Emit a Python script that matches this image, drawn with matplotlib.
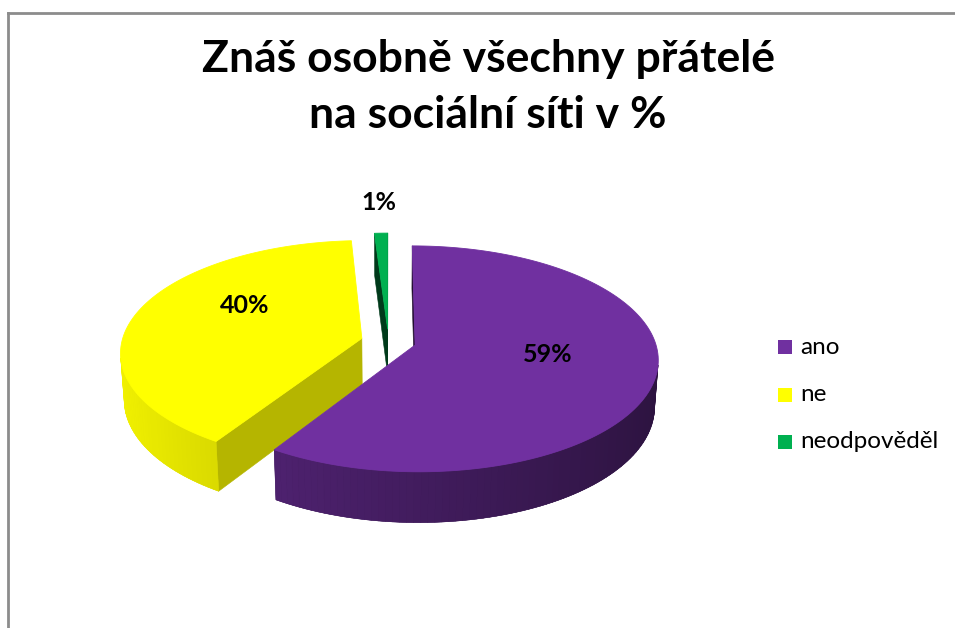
import numpy as np
import matplotlib.pyplot as plt
from matplotlib.lines import Line2D
from matplotlib.patches import Polygon, Rectangle

# chart data
labels = ['ano', 'ne', 'neodpověděl']
values = [59, 40, 1]
colors = ['#7030a0', '#ffff00', '#00b050']
title = 'Znáš osobně všechny přátelé\nna sociální síti v %'

# wall shading per slice: (base, slope), cut face factor
wall_shade = [(0.588, 0.192), (0.75, 0.2), (0.6, 0.2)]
face_shade = [0.3, 0.71, 0.33]
# label anchor on the slice (angle shift from bisector, radius)
label_shift = [-7, 17, 0]
label_rad = [0.55, 0.6, 1.37]

# 3d view of the pie
SIN_A = 0.46
COS_A = np.sqrt(1 - SIN_A ** 2)
DIST = 7.3
SCALE = 240
CX, CY = 388.5, 341.5
THICK = 0.22
EXPLODE = 0.115
CAM = np.array([0.0, -DIST * COS_A, DIST * SIN_A])

plt.rcParams['font.family'] = ['Lato', 'DejaVu Sans']


def project(p):
    x, y, z = p
    v = y * SIN_A + z * COS_A
    w = y * COS_A - z * SIN_A
    s = SCALE * DIST / (DIST + w)
    return CX + x * s, CY - v * s


def depth(p):
    return p[1] * COS_A - p[2] * SIN_A


def shade(col, f):
    rgb = np.array(plt.matplotlib.colors.to_rgb(col))
    return tuple(np.clip(rgb * f, 0, 1))


def visible(normal, pts):
    c = np.mean(pts, axis=0)
    return np.dot(normal, CAM - c) > 0


def add_poly(ax, pts, color, lw=0.6):
    xy = [project(p) for p in pts]
    ax.add_patch(Polygon(xy, closed=True, facecolor=color, edgecolor=color,
                         linewidth=lw, joinstyle='round'))


def main():
    fig = plt.figure(figsize=(9.55, 6.28), dpi=100)
    ax = fig.add_axes([0, 0, 1, 1])
    ax.set_xlim(0, 955)
    ax.set_ylim(628, 0)
    ax.axis('off')

    # outer chart frame (runs off the right and bottom)
    W, H = 955.0, 628.0
    for xs, ys in (([8, 8], [13, H + 10]), ([8, W + 10], [13, 13])):
        fig.add_artist(Line2D(np.array(xs) / W, 1 - np.array(ys) / H,
                              transform=fig.transFigure, color='#8c8c8c',
                              linewidth=2, solid_capstyle='projecting'))

    total = float(sum(values))
    starts = np.cumsum([0] + values[:-1]) / total * 360
    ends = np.cumsum(values) / total * 360
    mids = (starts + ends) / 2

    # far slices first
    order = sorted(range(len(values)),
                   key=lambda i: -np.cos(np.radians(mids[i])))

    for i in order:
        t0, t1, tm = starts[i], ends[i], mids[i]
        off = EXPLODE * np.array([np.sin(np.radians(tm)),
                                  np.cos(np.radians(tm)), 0])
        n = max(3, int((t1 - t0) / 1.5) + 2)
        th = np.radians(np.linspace(t0, t1, n))
        top = [off + [np.sin(a), np.cos(a), 0] for a in th]
        bot = [p - [0, 0, THICK] for p in top]
        apex_t = off.copy()
        apex_b = off - [0, 0, THICK]

        faces = []
        # outer wall
        base, slope = wall_shade[i]
        wall = []
        for k in range(n - 1):
            am = (th[k] + th[k + 1]) / 2
            nrm = np.array([np.sin(am), np.cos(am), 0])
            quad = [top[k], top[k + 1], bot[k + 1], bot[k]]
            if visible(nrm, quad):
                col = shade(colors[i], base - slope * np.sin(am))
                wall.append((k, quad, col))
        if wall:
            # one backing polygon hides seams between the strips
            ks = [w[0] for w in wall]
            ring = top[ks[0]:ks[-1] + 2] + bot[ks[0]:ks[-1] + 2][::-1]
            add_poly(ax, ring, wall[len(wall) // 2][2], lw=0.3)
            for _, quad, col in wall:
                faces.append((quad, col))
        # cut faces
        a0, a1 = np.radians(t0), np.radians(t1)
        for nrm, idx in ((np.array([-np.cos(a0), np.sin(a0), 0]), 0),
                         (np.array([np.cos(a1), -np.sin(a1), 0]), -1)):
            quad = [apex_t, top[idx], bot[idx], apex_b]
            if visible(nrm, quad):
                faces.append((quad, shade(colors[i], face_shade[i])))

        faces.sort(key=lambda f: -depth(np.mean(f[0], axis=0)))
        for pts, col in faces:
            add_poly(ax, pts, col, lw=0.4)
        add_poly(ax, [apex_t] + top, colors[i])

        # data label
        la = np.radians(tm + label_shift[i])
        lp = off + label_rad[i] * np.array([np.sin(la), np.cos(la), 0])
        lx, ly = project(lp)
        ax.text(lx, ly, f'{values[i]}%', ha='center', va='center',
                fontsize=18, fontweight='bold', color='black')

    # title
    ax.text(488, 87, title, ha='center', va='center', fontsize=32,
            fontweight='bold', linespacing=1.5)

    # legend
    for j, lab in enumerate(labels):
        y = 347 + j * 47.5
        ax.add_patch(Rectangle((778, y - 7), 14, 14, facecolor=colors[j],
                               edgecolor='none'))
        ax.text(800, y, lab, ha='left', va='center', fontsize=17.5)

    fig.savefig('out.png', dpi=100)


if __name__ == '__main__':
    main()
